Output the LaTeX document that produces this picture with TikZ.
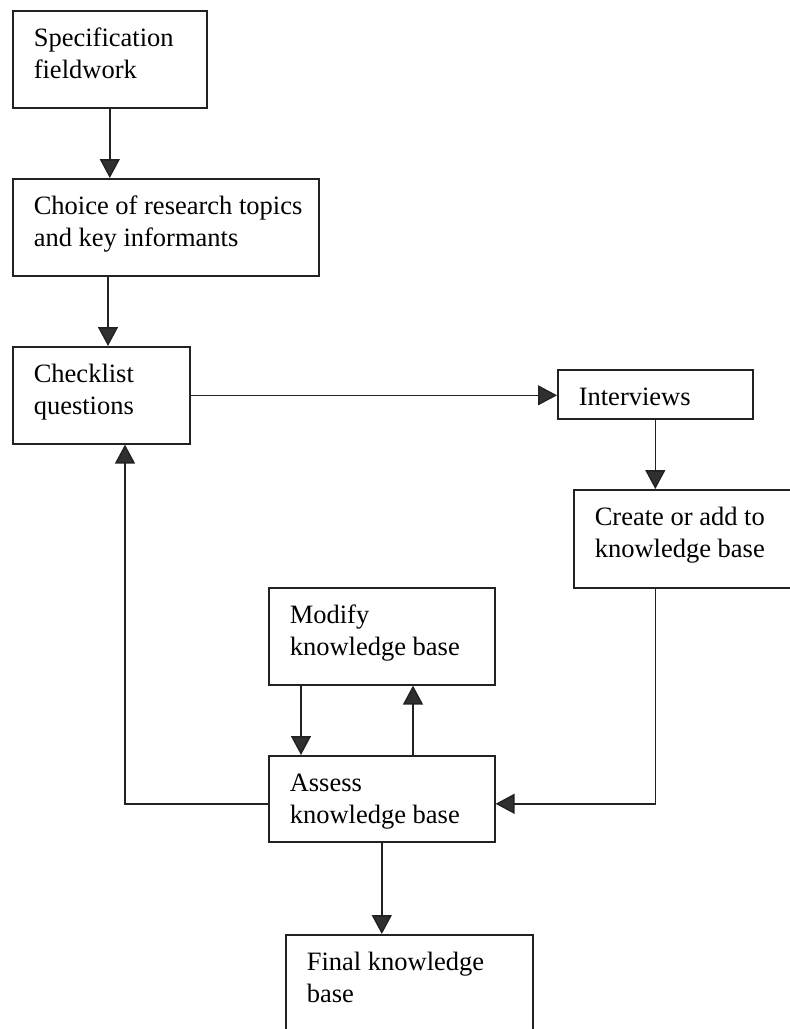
\documentclass[tikz,border=0pt]{standalone}
\usepackage{fontspec}
\setmainfont{Liberation Serif}
\usepackage{xcolor}
\usetikzlibrary{arrows.meta,calc}

\definecolor{ink}{HTML}{222222}
\definecolor{tipgray}{HTML}{303030}

% box text: width, height, lines (first baseline 36pt below the top edge)
\newcommand{\stagetext}[3]{\parbox[t][#2][t]{#1}{\leftskip=21pt\rule{0pt}{36pt}#3}}

\tikzset{
  stage/.style={draw=ink, line width=1.6pt, anchor=north west, inner sep=0pt,
    font=\fontsize{26.5pt}{32pt}\selectfont, text=black},
  flow/.style={draw=ink, line width=1.5pt,
    -{Triangle[length=19pt,width=20pt,fill=tipgray]}},
}

\begin{document}
\begin{tikzpicture}[x=1pt, y=-1pt]
    \useasboundingbox (0,0) rectangle (790,1029);

    % Boxes
    \node[stage] (spec) at (12,10) {\stagetext{194pt}{97pt}{Specification\\fieldwork}};
    \node[stage] (choice) at (12,178) {\stagetext{306pt}{97pt}{Choice of research topics\\and key informants}};
    \node[stage] (check) at (12,346) {\stagetext{177pt}{97pt}{Checklist\\questions}};
    \node[stage] (interviews) at (557,369) {\stagetext{195pt}{49pt}{Interviews}};
    \node[stage] (create) at (573,489) {\stagetext{222pt}{98pt}{Create or add to\\knowledge base}};
    \node[stage] (modify) at (268,587) {\stagetext{226pt}{97pt}{Modify\\knowledge base}};
    \node[stage] (assess) at (268,755) {\stagetext{226pt}{86pt}{Assess\\knowledge base}};
    \node[stage] (final) at (285,934) {\stagetext{247pt}{95pt}{Final knowledge\\base}};

    % Main line
    \draw[flow] (spec.south) -- (spec.south |- choice.north);
    \draw[flow] ([xshift=96pt]choice.south west) -- ([xshift=96pt]choice.south west |- check.north);
    \draw[flow] (check.east) -- (check.east -| interviews.west);
    \draw[flow] (interviews.south) -- (interviews.south |- create.north);
    \draw[flow] (interviews.south |- create.south) |- ([yshift=-5pt]assess.east);

    % Loop back to the checklist
    \draw[flow] ([yshift=-5pt]assess.west) -| ([xshift=113pt]check.south west);

    % Modify / assess cycle
    \draw[flow] ([xshift=33pt]modify.south west) -- ([xshift=33pt]assess.north west);
    \draw[flow] ([xshift=145pt]assess.north west) -- ([xshift=145pt]modify.south west);

    % Result
    \draw[flow] (assess.south) -- (assess.south |- final.north);
\end{tikzpicture}
\end{document}
